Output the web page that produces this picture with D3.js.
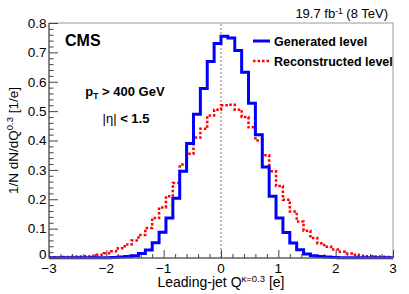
<!DOCTYPE html>
<html>
<head>
<meta charset="utf-8">
<script src="https://cdn.jsdelivr.net/npm/d3@7"></script>
<style>
  body { margin: 0; background: #fff; }
  text { font-family: "Liberation Sans", Arial, Helvetica, sans-serif; }
</style>
</head>
<body>
<div id="chart"></div>
<script>
// 50 bins from -3 to 3 (width 0.12)
const xDomain = [-3, 3];
const yDomain = [0, 0.8];
const nBins = 50;

const generated = [
    0.0005, 0.0005, 0.0005, 0.0005, 0.0005, 0.0005, 0.0005, 0.0005, 0.001, 0.002,
    0.003, 0.005, 0.008, 0.015, 0.027, 0.052, 0.088, 0.136, 0.203, 0.295,
    0.39, 0.489, 0.577, 0.669, 0.730, 0.755, 0.749, 0.706, 0.632, 0.527,
    0.42, 0.31, 0.21, 0.136, 0.087, 0.051, 0.028, 0.014, 0.008, 0.005,
    0.003, 0.002, 0.001, 0.001, 0.001, 0.0005, 0.0005, 0.0005, 0.0005, 0.0005
];

const reconstructed = [
    0.002, 0.002, 0.003, 0.004, 0.005, 0.006, 0.008, 0.011, 0.016, 0.023,
    0.033, 0.046, 0.060, 0.078, 0.102, 0.136, 0.172, 0.210, 0.255, 0.318,
    0.355, 0.410, 0.440, 0.485, 0.505, 0.520, 0.522, 0.505, 0.480, 0.445,
    0.400, 0.350, 0.295, 0.245, 0.198, 0.158, 0.124, 0.093, 0.068, 0.050,
    0.038, 0.029, 0.021, 0.015, 0.011, 0.008, 0.006, 0.005, 0.004, 0.003
];

const xTicks = [-3, -2, -1, 0, 1, 2, 3];
const yTicks = [0, 0.1, 0.2, 0.3, 0.4, 0.5, 0.6, 0.7, 0.8];

const W = 409, H = 294;
const margin = { top: 23, right: 16, bottom: 36, left: 49 };
const width = W - margin.left - margin.right;
const height = H - margin.top - margin.bottom;

const svg = d3.select('#chart')
    .append('svg')
    .attr('width', W)
    .attr('height', H);

const g = svg.append('g')
    .attr('transform', `translate(${margin.left}, ${margin.top})`);

const xScale = d3.scaleLinear().domain(xDomain).range([0, width]);
const yScale = d3.scaleLinear().domain(yDomain).range([height, 0]);

const binW = (xDomain[1] - xDomain[0]) / nBins;
const edges = d3.range(nBins).map(i => xDomain[0] + i * binW);

// step points for each histogram
const toSteps = vals => {
    const pts = vals.map((v, i) => [edges[i], v]);
    pts.push([xDomain[1], vals[vals.length - 1]]);
    return pts;
};

const line = d3.line()
    .x(d => xScale(d[0]))
    .y(d => yScale(d[1]))
    .curve(d3.curveStepAfter);

// dotted line at x = 0
g.append('line')
    .attr('x1', xScale(0)).attr('x2', xScale(0))
    .attr('y1', yScale(0)).attr('y2', yScale(0.8))
    .attr('stroke', '#777')
    .attr('stroke-width', 1)
    .attr('stroke-dasharray', '2,2');

g.append('path')
    .datum(toSteps(reconstructed))
    .attr('d', line)
    .attr('fill', 'none')
    .attr('stroke', '#ff0000')
    .attr('stroke-width', 2.5)
    .attr('stroke-dasharray', '2.5,2');

g.append('path')
    .datum(toSteps(generated))
    .attr('d', line)
    .attr('fill', 'none')
    .attr('stroke', '#0000ff')
    .attr('stroke-width', 3);

// frame top/right
g.append('rect')
    .attr('x', 0).attr('y', 0)
    .attr('width', width).attr('height', height)
    .attr('fill', 'none')
    .attr('stroke', '#999')
    .attr('stroke-width', 1);

// x axis
const xAxis = g.append('g')
    .attr('transform', `translate(0, ${height})`)
    .call(d3.axisBottom(xScale).tickValues(d3.range(-3, 3.001, 0.2)).tickSize(-4).tickFormat(''));
xAxis.selectAll('.tick line').filter(d => Math.abs(d - Math.round(d)) < 1e-6).attr('y2', -8);
xAxis.selectAll('line, path').attr('stroke', '#444');
xAxis.select('.domain').remove();

g.selectAll('.xlab')
    .data(xTicks)
    .join('text')
    .attr('class', 'xlab')
    .attr('x', d => xScale(d))
    .attr('y', height + 14.5)
    .attr('text-anchor', 'middle')
    .style('font-size', '13.5px')
    .text(d => d < 0 ? '\u2212' + Math.abs(d) : d);

// y axis
const yAxis = g.append('g')
    .call(d3.axisLeft(yScale).tickValues(d3.range(0, 0.8001, 0.02)).tickSize(-4.5).tickFormat(''));
yAxis.selectAll('.tick line').filter((d, i) => i % 5 === 0).attr('x2', 9);
yAxis.selectAll('line, path').attr('stroke', '#444');
yAxis.select('.domain').remove();

g.selectAll('.ylab')
    .data(yTicks)
    .join('text')
    .attr('class', 'ylab')
    .attr('x', -2.5)
    .attr('y', d => yScale(d) - (d === 0 ? 3.5 : 0))
    .attr('dy', '0.36em')
    .attr('text-anchor', 'end')
    .style('font-size', '13.5px')
    .text(d => d === 0 ? '0' : d3.format('.1f')(d));

// axis lines
g.append('line').attr('x1', 0).attr('x2', width).attr('y1', height).attr('y2', height)
    .attr('stroke', '#444');
g.append('line').attr('x1', 0).attr('x2', 0).attr('y1', 0).attr('y2', height)
    .attr('stroke', '#444');

// axis titles
const xt = svg.append('text')
    .attr('x', margin.left + width / 2)
    .attr('y', 287)
    .attr('text-anchor', 'middle')
    .style('font-size', '14px');
xt.append('tspan').text('Leading-jet Q');
xt.append('tspan').attr('dy', -5).style('font-size', '9.5px').text('\u03ba=0.3');
xt.append('tspan').attr('dy', 5).text(' [e]');

const yt = svg.append('text')
    .attr('transform', `translate(18, ${margin.top + height / 2}) rotate(-90)`)
    .attr('text-anchor', 'middle')
    .style('font-size', '13.5px');
yt.append('tspan').text('1/N dN/dQ');
yt.append('tspan').attr('dy', -5).style('font-size', '9.5px').text('0.3');
yt.append('tspan').attr('dy', 5).text(' [1/e]');

// lumi label
const lumi = svg.append('text')
    .attr('x', 388)
    .attr('y', 18)
    .attr('text-anchor', 'end')
    .style('font-size', '13px');
lumi.append('tspan').text('19.7 fb');
lumi.append('tspan').attr('dy', -4.5).style('font-size', '8.5px').text('-1');
lumi.append('tspan').attr('dy', 4.5).text(' (8 TeV)');

// CMS
svg.append('text')
    .attr('x', 65).attr('y', 46)
    .style('font-size', '16px')
    .style('font-weight', 'bold')
    .text('CMS');

// cuts
const pt = svg.append('text')
    .attr('x', 125).attr('y', 96)
    .attr('text-anchor', 'middle')
    .style('font-size', '13px')
    .style('font-weight', 'bold');
pt.append('tspan').text('p');
pt.append('tspan').attr('dy', 3).style('font-size', '8.5px').text('T');
pt.append('tspan').attr('dy', -3).text(' > 400 GeV');

const eta = svg.append('text')
    .attr('x', 126).attr('y', 123)
    .attr('text-anchor', 'middle')
    .style('font-size', '13px')
    .style('font-weight', 'bold');
eta.append('tspan').style('font-weight', 'normal').text('|\u03b7|');
eta.append('tspan').text(' < 1.5');

// legend
const legend = [
    { label: 'Generated level', color: '#0000ff', dash: null, w: 3, y: 41 },
    { label: 'Reconstructed level', color: '#ff0000', dash: '2.5,2', w: 2.5, y: 61 }
];
legend.forEach(d => {
    svg.append('line')
        .attr('x1', 253).attr('x2', 270)
        .attr('y1', d.y).attr('y2', d.y)
        .attr('stroke', d.color)
        .attr('stroke-width', d.w)
        .attr('stroke-dasharray', d.dash);
    svg.append('text')
        .attr('x', 274).attr('y', d.y + 4.5)
        .style('font-size', '12.5px')
        .style('font-weight', 'bold')
        .text(d.label);
});
</script>
</body>
</html>
